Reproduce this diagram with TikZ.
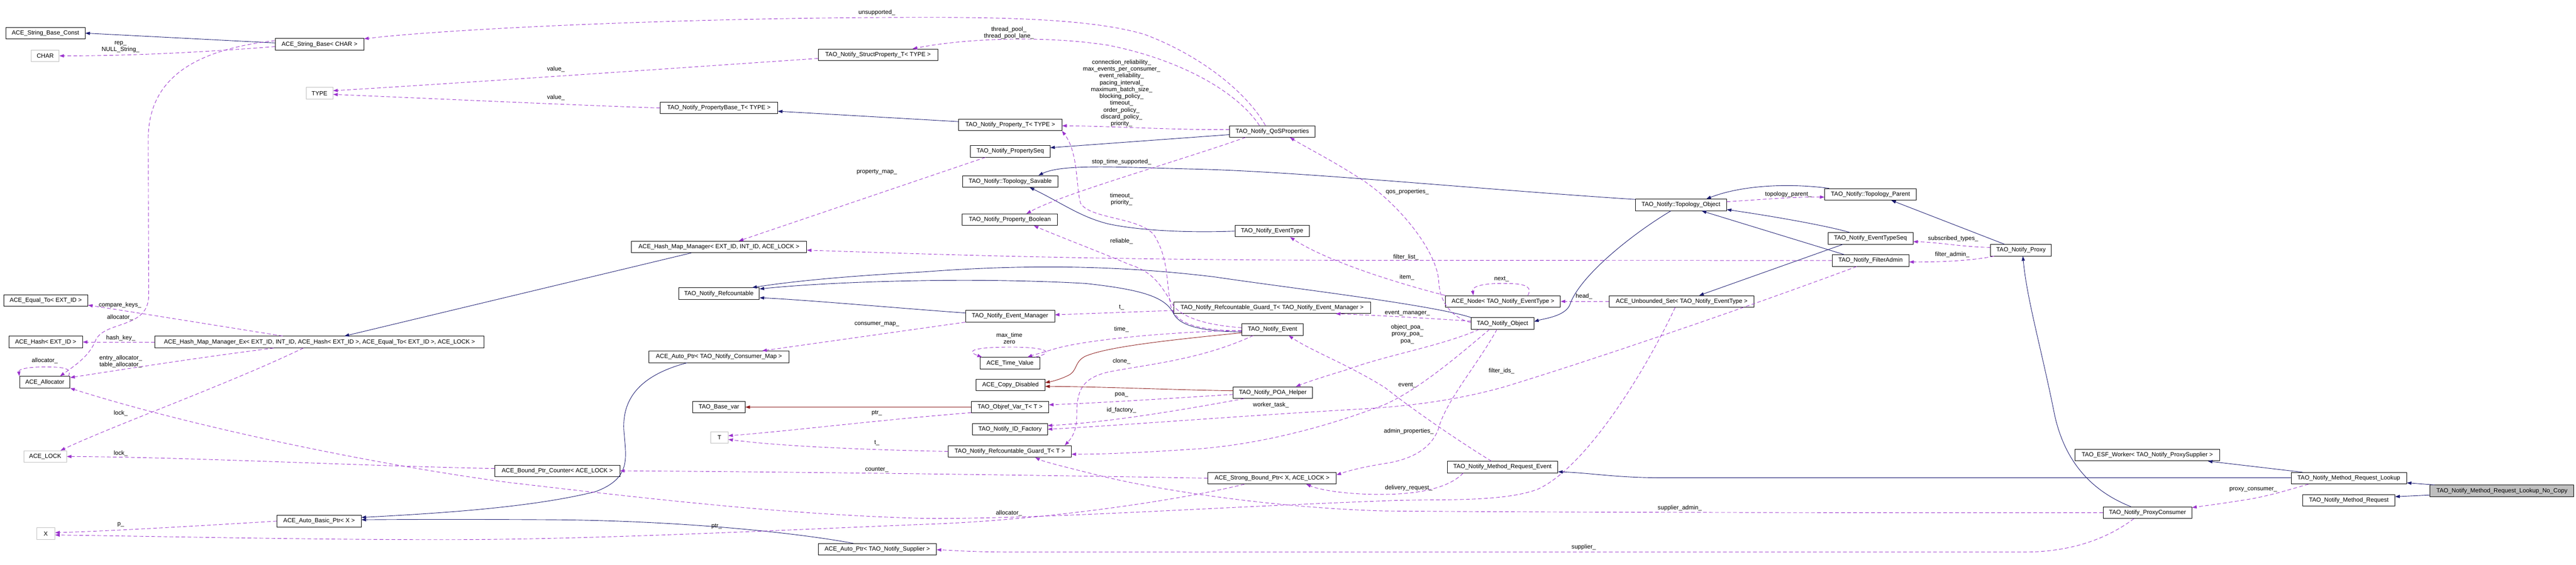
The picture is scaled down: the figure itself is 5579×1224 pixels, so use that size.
\documentclass[tikz,border=0pt]{standalone}
\usepackage{fontspec}
\setmainfont{Liberation Sans}
\usetikzlibrary{arrows.meta,calc}
\definecolor{cnavy}{HTML}{191970}
\definecolor{corchid}{HTML}{9A32CD}
\definecolor{cred}{HTML}{8B1A1A}
\definecolor{cgray}{HTML}{BFBFBF}
\newcommand\dfont{\fontsize{13}{14.8}\selectfont}
\begin{document}
\begin{tikzpicture}[x=1pt,y=-1pt,
  box/.style={draw=black, line width=1pt, fill=white, minimum height=25pt, inner xsep=3pt, inner ysep=0pt, font=\dfont},
  gbox/.style={box, draw=cgray},
  mbox/.style={box, fill=cgray},
  tip/.style={-{Triangle[length=10pt,width=7pt]}},
  inh/.style={draw=cnavy, line width=1pt, tip},
  priv/.style={draw=cred, line width=1pt, tip},
  usage/.style={draw=corchid, line width=1pt, dash pattern=on 8pt off 5pt, tip},
  lbl/.style={font=\dfont, inner sep=0pt, align=center, text=black}]
\useasboundingbox (0,0) rectangle (5579,1224);

% ---------------- nodes ----------------
\node[box, minimum width=171.5pt] (strconst) at (98.5,71.8) {ACE\_String\_Base\_Const};
\node[gbox, minimum width=60pt] (char) at (98,121) {CHAR};
\node[box, minimum width=192pt] (strbase) at (692,96) {ACE\_String\_Base< CHAR >};
\node[gbox, minimum width=58pt] (type) at (692,202) {TYPE};
\node[box, minimum width=259pt] (structprop) at (1901.5,118.6) {TAO\_Notify\_StructProperty\_T< TYPE >};
\node[box, minimum width=254pt] (propbase) at (1557,234) {TAO\_Notify\_PropertyBase\_T< TYPE >};
\node[box, minimum width=223.5pt] (propT) at (2188,270.5) {TAO\_Notify\_Property\_T< TYPE >};
\node[box, minimum width=172pt] (pseq) at (2188,328) {TAO\_Notify\_PropertySeq};
\node[box, minimum width=207.5pt] (tsav) at (2188,393) {TAO\_Notify::Topology\_Savable};
\node[box, minimum width=206pt] (pbool) at (2187,476) {TAO\_Notify\_Property\_Boolean};
\node[box, minimum width=185pt] (qos) at (2755.5,284.7) {TAO\_Notify\_QoSProperties};
\node[box, minimum width=160.5pt] (evtype) at (2755,500.7) {TAO\_Notify\_EventType};
\node[box, minimum width=380pt] (hmm) at (1557,535) {ACE\_Hash\_Map\_Manager< EXT\_ID, INT\_ID, ACE\_LOCK >};
\node[box, minimum width=182.3pt] (eqto) at (99,651) {ACE\_Equal\_To< EXT\_ID >};
\node[box, minimum width=159.6pt] (hash) at (99,741) {ACE\_Hash< EXT\_ID >};
\node[box, minimum width=109pt] (alloc) at (97,828) {ACE\_Allocator};
\node[gbox, minimum width=92.3pt] (acelock) at (98,989) {ACE\_LOCK};
\node[gbox, minimum width=39.6pt] (xn) at (99,1156) {X};
\node[box, minimum width=713pt] (hmmex) at (692,741) {ACE\_Hash\_Map\_Manager\_Ex< EXT\_ID, INT\_ID, ACE\_Hash< EXT\_ID >, ACE\_Equal\_To< EXT\_ID >, ACE\_LOCK >};
\node[box, minimum width=182.5pt] (autobasic) at (691,1129) {ACE\_Auto\_Basic\_Ptr< X >};
\node[box, minimum width=175pt] (refc) at (1557,636) {TAO\_Notify\_Refcountable};
\node[box, minimum width=302.5pt] (autocm) at (1557,773) {ACE\_Auto\_Ptr< TAO\_Notify\_Consumer\_Map >};
\node[box, minimum width=113.4pt] (basevar) at (1557,882) {TAO\_Base\_var};
\node[gbox, minimum width=37.5pt] (tn) at (1558,948) {T};
\node[box, minimum width=270.5pt] (bpc) at (1207,1020) {ACE\_Bound\_Ptr\_Counter< ACE\_LOCK >};
\node[box, minimum width=256pt] (autosup) at (1900,1190) {ACE\_Auto\_Ptr< TAO\_Notify\_Supplier >};
\node[box, minimum width=193pt] (evm) at (2187.5,685) {TAO\_Notify\_Event\_Manager};
\node[box, minimum width=426pt] (guardem) at (2755,666.6) {TAO\_Notify\_Refcountable\_Guard\_T< TAO\_Notify\_Event\_Manager >};
\node[box, minimum width=133pt] (evt) at (2756,714) {TAO\_Notify\_Event};
\node[box, minimum width=129pt] (tv) at (2187.5,786.6) {ACE\_Time\_Value};
\node[box, minimum width=149pt] (copydis) at (2188.5,834) {ACE\_Copy\_Disabled};
\node[box, minimum width=171pt] (poa) at (2756.5,850.5) {TAO\_Notify\_POA\_Helper};
\node[box, minimum width=167pt] (objref) at (2187.6,882) {TAO\_Objref\_Var\_T< T >};
\node[box, minimum width=162pt] (idf) at (2187.5,930) {TAO\_Notify\_ID\_Factory};
\node[box, minimum width=266pt] (guardt) at (2187,978) {TAO\_Notify\_Refcountable\_Guard\_T< T >};
\node[box, minimum width=278pt] (sbp) at (2755,1036) {ACE\_Strong\_Bound\_Ptr< X, ACE\_LOCK >};
\node[box, minimum width=197.5pt] (topobj) at (3640.5,444) {TAO\_Notify::Topology\_Object};
\node[box, minimum width=198pt] (topparent) at (4051,421) {TAO\_Notify::Topology\_Parent};
\node[box, minimum width=184pt] (evtseq) at (4051,516.5) {TAO\_Notify\_EventTypeSeq};
\node[box, minimum width=166.5pt] (fadmin) at (4051,564.5) {TAO\_Notify\_FilterAdmin};
\node[box, minimum width=249pt] (anode) at (3255,653) {ACE\_Node< TAO\_Notify\_EventType >};
\node[box, minimum width=313.5pt] (unbset) at (3642,653) {ACE\_Unbounded\_Set< TAO\_Notify\_EventType >};
\node[box, minimum width=136pt] (obj) at (3254,700.7) {TAO\_Notify\_Object};
\node[box, minimum width=239.4pt] (mre) at (3254,1012) {TAO\_Notify\_Method\_Request\_Event};
\node[box, minimum width=132pt] (proxy) at (4377,542) {TAO\_Notify\_Proxy};
\node[box, minimum width=192pt] (pc) at (4651,1110.6) {TAO\_Notify\_ProxyConsumer};
\node[box, minimum width=313pt] (esf) at (4650.5,986) {TAO\_ESF\_Worker< TAO\_Notify\_ProxySupplier >};
\node[box, minimum width=250pt] (lookup) at (5087,1036) {TAO\_Notify\_Method\_Request\_Lookup};
\node[box, minimum width=199.5pt] (mreq) at (5087,1084) {TAO\_Notify\_Method\_Request};
\node[mbox, minimum width=311pt] (main) at (5418.5,1063.5) {TAO\_Notify\_Method\_Request\_Lookup\_No\_Copy};

% ---------------- left area ----------------
\draw[inh] ($(strbase.west)+(0,-3)$) -- (strconst.east);
\draw[usage] ($(strbase.west)+(0,5)$) .. controls (450,112) and (300,121) .. (char.east);
\node[lbl] at (261,101.5) {rep\_\\NULL\_String\_};
\draw[usage] ($(strbase.west)+(0,-8)$) .. controls (420,108) and (322,170) .. (321,300) -- (322,640) .. controls (322,712) and (230,695) .. (208,735) .. controls (195,770) and (165,790) .. ($(alloc.north)+(33,0)$);
\node[lbl] at (260,688) {allocator\_};
\draw[usage] ($(alloc.north east)+(-4,0)$) .. controls (158,797) and (135,795) .. (97,795) .. controls (58,795) and (40,800) .. ($(alloc.north west)+(0,0)$);
\node[lbl] at (97,781) {allocator\_};
\draw[usage] ($(hmmex.north)+(-80,0)$) .. controls (450,702) and (300,678) .. ($(eqto.east)+(0,10)$);
\node[lbl] at (260,661) {compare\_keys\_};
\draw[usage] (hmmex.west) -- (hash.east);
\node[lbl] at (261.5,732.5) {hash\_key\_};
\draw[usage] ($(hmmex.south)+(-99,0)$) .. controls (450,772) and (300,795) .. ($(alloc.east)+(0,-10)$);
\node[lbl] at (261.5,783) {entry\_allocator\_\\table\_allocator\_};
\draw[usage] ($(hmmex.south)+(-35,0)$) .. controls (500,830) and (250,920) .. ($(acelock.north)+(33,0)$);
\node[lbl] at (261.5,895) {lock\_};
\draw[inh] ($(hmm.south)+(-60,0)$) -- ($(hmmex.north)+(54,0)$);
\draw[usage] ($(pseq.south)+(-54,0)$) -- ($(hmm.north)+(43,0)$);
\node[lbl] at (1899,373) {property\_map\_};
\draw[usage] (fadmin.west) -- (3000,564) .. controls (2400,564) and (2050,552) .. ($(hmm.east)+(0,7)$);
\node[lbl] at (3045,557) {filter\_list\_};

\draw[inh] ($(autocm.south)+(-69,0)$) .. controls (1390,812) and (1348,860) .. (1351,930) .. controls (1355,990) and (1370,1035) .. (1290,1065) .. controls (1150,1100) and (950,1112) .. ($(autobasic.east)+(0,-8)$);
\draw[inh] ($(autosup.north)+(-52,0)$) .. controls (1700,1150) and (1450,1128) .. (1200,1126) .. controls (1050,1125) and (900,1125) .. ($(autobasic.east)+(0,-3)$);
\draw[usage] (autobasic.west) .. controls (450,1138) and (250,1150) .. ($(xn.east)+(0,-2)$);
\node[lbl] at (261.5,1137) {p\_};
\draw[usage] ($(sbp.south)+(-60,0)$) .. controls (2550,1085) and (2250,1128) .. (2000,1136) .. controls (1700,1148) and (1300,1168) .. (1000,1169) .. controls (700,1170) and (350,1162) .. ($(xn.east)+(0,3)$);
\node[lbl] at (1552,1140) {ptr\_};
\draw[usage] ($(unbset.south)+(-14,0)$) .. controls (3570,790) and (3440,1010) .. (3330,1060) .. controls (3250,1090) and (3100,1080) .. (3000,1085) .. controls (2600,1100) and (2250,1125) .. (2000,1123) .. controls (1700,1115) and (1400,1080) .. (1100,1045) .. controls (800,1005) and (400,920) .. (alloc.south east);
\node[lbl] at (2185,1112) {allocator\_};
\draw[usage] ($(bpc.west)+(0,-5)$) .. controls (800,1010) and (400,990) .. (acelock.east);
\node[lbl] at (261.5,982) {lock\_};
\draw[usage] (sbp.west) .. controls (2300,1030) and (1700,1022) .. (bpc.east);
\node[lbl] at (1899,1017) {counter\_};
\draw[usage] (guardt.west) .. controls (1900,975) and (1700,968) .. ($(tn.east)+(0,4)$);
\node[lbl] at (1899,959) {t\_};
\draw[usage] ($(objref.south west)+(0,-1)$) .. controls (1900,910) and (1700,935) .. ($(tn.east)+(0,-4)$);
\node[lbl] at (1899,894.5) {ptr\_};
\draw[priv] (objref.west) -- (basevar.east);

% ---------------- refcountable ----------------
\draw[inh] ($(evm.west)+(0,-7)$) .. controls (1950,668) and (1750,650) .. ($(refc.east)+(0,9)$);
\draw[inh] ($(evt.west)+(0,5)$) .. controls (2600,718) and (2555,705) .. (2542,680) .. controls (2525,645) and (2480,628) .. (2350,614) .. controls (2100,600) and (1800,610) .. ($(refc.east)+(0,-10)$);
\draw[inh] (obj.north west) .. controls (3100,660) and (2800,625) .. (2631,600) .. controls (2450,578) and (2250,570) .. (2000,589) .. controls (1800,600) and (1700,612) .. ($(refc.north east)+(-16,0)$);

% ---------------- event area ----------------
\draw[usage] ($(evt.south)+(-42,0)$) .. controls (2600,780) and (2480,790) .. (2400,806) .. controls (2340,820) and (2332,850) .. (2332,900) .. controls (2332,935) and (2320,950) .. ($(guardt.north)+(119,0)$);
\node[lbl] at (2429,783) {clone\_};
\draw[usage] ($(evt.west)+(0,2)$) .. controls (2550,718) and (2350,735) .. (2280,757) .. controls (2250,766) and (2235,770) .. ($(tv.north)+(38,0)$);
\node[lbl] at (2429,713) {time\_};
\draw[usage] ($(tv.north east)+(-10,0)$) .. controls (2290,762) and (2260,752) .. (2190,752) .. controls (2110,752) and (2090,760) .. ($(tv.north west)+(4,0)$);
\node[lbl] at (2186,733) {max\_time\\zero};
\draw[priv] ($(evt.west)+(0,7)$) .. controls (2550,735) and (2400,750) .. (2350,772) .. controls (2325,785) and (2335,805) .. (2310,815) .. controls (2295,822) and (2280,826) .. ($(copydis.east)+(0,-5)$);
\draw[priv] ($(poa.west)+(0,-4)$) .. controls (2550,845) and (2400,838) .. ($(copydis.east)+(0,3)$);
\draw[usage] ($(poa.west)+(0,4)$) .. controls (2550,862) and (2400,872) .. ($(objref.east)+(0,-5)$);
\node[lbl] at (2429,855) {poa\_};
\draw[usage] ($(poa.south west)+(24,0)$) .. controls (2550,890) and (2400,915) .. ($(idf.east)+(0,-8)$);
\node[lbl] at (2429,888.5) {id\_factory\_};
\draw[usage] ($(guardem.west)+(0,6)$) -- ($(evm.east)+(0,-3)$);
\node[lbl] at (2429,666) {t\_};
\draw[usage] ($(obj.west)+(0,-5)$) .. controls (3100,690) and (3000,684) .. ($(guardem.south)+(138,0)$);
\node[lbl] at (3048,678) {event\_manager\_};
\draw[usage] ($(obj.west)+(0,-2)$) .. controls (3150,690) and (3118,660) .. (3116,610) .. controls (3112,540) and (3020,430) .. (2935,380) .. controls (2880,345) and (2830,320) .. ($(qos.south)+(38,0)$);
\node[lbl] at (3048,416) {qos\_properties\_};
\draw[usage] (anode.north west) .. controls (3050,620) and (2880,570) .. ($(evtype.south)+(39,0)$);
\node[lbl] at (3047,601) {item\_};
\draw[usage] ($(anode.north)+(54,0)$) .. controls (3322,616) and (3290,614) .. (3255,614) .. controls (3205,614) and (3188,622) .. ($(anode.north)+(-64,0)$);
\node[lbl] at (3252,605) {next\_};
\draw[usage] (unbset.west) -- (anode.east);
\node[lbl] at (3430.5,642) {head\_};
\draw[inh] ($(evtseq.south)+(-60,0)$) -- ($(unbset.north)+(38,0)$);
\draw[inh] ($(evtseq.north)+(-45,0)$) .. controls (3960,490) and (3850,470) .. ($(topobj.east)+(0,10)$);
\draw[inh] ($(fadmin.north)+(-57,0)$) -- ($(topobj.south)+(45,0)$);
\draw[inh] ($(topparent.north west)+(10,0)$) .. controls (3870,396) and (3770,402) .. ($(topobj.north)+(55,0)$);
\draw[usage] ($(topobj.east)+(0,-7)$) .. controls (3820,432) and (3890,426) .. ($(topparent.west)+(0,6)$);
\node[lbl] at (3873,421) {topology\_parent\_};
\draw[inh] ($(topobj.south)+(-22,0)$) .. controls (3530,510) and (3420,600) .. (3400,660) .. controls (3390,685) and (3345,690) .. ($(obj.east)+(0,-4)$);
\draw[inh] ($(topobj.north west)+(0,1)$) .. controls (3200,410) and (2800,370) .. (2574,366) .. controls (2420,362) and (2300,355) .. ($(tsav.north)+(61,0)$);
\draw[inh] (evtype.west) .. controls (2560,505) and (2460,498) .. (2400,485) .. controls (2340,470) and (2300,440) .. ($(tsav.south)+(42,0)$);

% ---------------- properties ----------------
\draw[usage] ($(qos.west)+(0,-4)$) .. controls (2550,282) and (2400,273) .. ($(propT.east)+(0,2)$);
\node[lbl] at (2429,202) {connection\_reliability\_\\max\_events\_per\_consumer\_\\event\_reliability\_\\pacing\_interval\_\\maximum\_batch\_size\_\\blocking\_policy\_\\timeout\_\\order\_policy\_\\discard\_policy\_\\priority\_};
\draw[inh] ($(qos.west)+(0,7)$) -- ($(pseq.east)+(0,-8)$);
\draw[usage] ($(qos.south west)+(35,0)$) .. controls (2550,350) and (2300,420) .. ($(pbool.north)+(36,0)$);
\node[lbl] at (2429,350.7) {stop\_time\_supported\_};
\draw[inh] ($(propT.west)+(0,-7)$) -- ($(propbase.east)+(0,7)$);
\draw[usage] (propbase.west) .. controls (1200,226) and (950,214) .. ($(type.east)+(0,2.5)$);
\node[lbl] at (1204,211) {value\_};
\draw[usage] ($(structprop.west)+(0,8)$) .. controls (1500,145) and (1000,180) .. ($(type.east)+(0,-5.5)$);
\node[lbl] at (1204,150) {value\_};
\draw[usage] ($(qos.north)+(-28,0)$) .. controls (2680,200) and (2560,130) .. (2400,98) .. controls (2250,75) and (2080,85) .. ($(structprop.north east)+(-55,0)$);
\node[lbl] at (2185,71) {thread\_pool\_\\thread\_pool\_lane\_};
\draw[usage] ($(qos.north)+(-15,0)$) .. controls (2700,200) and (2600,120) .. (2480,75) .. controls (2350,35) and (2100,37) .. (1900,38) .. controls (1500,40) and (1000,60) .. ($(strbase.east)+(0,-12)$);
\node[lbl] at (1899,27) {unsupported\_};
\draw[usage] ($(evt.west)+(0,3)$) .. controls (2600,715) and (2545,705) .. (2535,660) .. controls (2525,600) and (2530,560) .. (2500,510) .. controls (2470,470) and (2360,475) .. (2340,440) .. controls (2330,400) and (2335,330) .. ($(propT.south)+(112,0)$);
\node[lbl] at (2429,431.5) {timeout\_\\priority\_};
\draw[usage] ($(evt.west)+(0,-4)$) .. controls (2620,705) and (2560,690) .. (2540,660) .. controls (2515,620) and (2500,590) .. (2446,573) .. controls (2380,545) and (2300,515) .. ($(pbool.south)+(52,0)$);
\node[lbl] at (2429,522.7) {reliable\_};
\draw[usage] (evm.south west) -- ($(autocm.north east)+(-58,0)$);
\node[lbl] at (1899,702.7) {consumer\_map\_};

% ---------------- object area ----------------
\draw[usage] ($(mre.north)+(-24,0)$) .. controls (3150,950) and (3050,880) .. (3000,840) .. controls (2920,790) and (2840,760) .. ($(evt.south)+(35,0)$);
\node[lbl] at (3048,834) {event\_};
\draw[usage] ($(mre.south west)+(35,0)$) .. controls (3140,1055) and (3080,1070) .. (3000,1071) .. controls (2920,1072) and (2860,1062) .. ($(sbp.south)+(74,0)$);
\node[lbl] at (3051,1057) {delivery\_request\_};
\draw[usage] ($(obj.south west)+(18,0)$) .. controls (3120,750) and (3000,770) .. (2920,800) .. controls (2870,815) and (2830,828) .. ($(poa.north)+(50,0)$);
\node[lbl] at (3048,724) {object\_poa\_\\proxy\_poa\_\\poa\_};
\draw[usage] ($(obj.south)+(-28,0)$) .. controls (3170,760) and (3080,840) .. (3000,876) .. controls (2900,915) and (2750,960) .. (2600,972) .. controls (2480,980) and (2400,984) .. ($(guardt.east)+(0,6)$);
\node[lbl] at (2752.5,878) {worker\_task\_};
\draw[usage] ($(fadmin.south)+(-30,0)$) .. controls (3800,660) and (3450,780) .. (3255,839) .. controls (3150,868) and (3050,880) .. (2950,886) .. controls (2700,900) and (2450,920) .. (idf.east);
\node[lbl] at (3252,803.7) {filter\_ids\_};
\draw[usage] ($(obj.south)+(-12,0)$) .. controls (3200,790) and (3130,870) .. (3115,930) .. controls (3100,970) and (3060,995) .. (3000,1004) .. controls (2950,1012) and (2920,1020) .. ($(sbp.east)+(0,-7)$);
\node[lbl] at (3051,935) {admin\_properties\_};
\draw[usage] (pc.west) .. controls (4300,1111) and (3500,1111) .. (3000,1107) .. controls (2750,1100) and (2500,1060) .. (2380,1030) .. controls (2300,1010) and (2260,1000) .. ($(guardt.south)+(55,0)$);
\node[lbl] at (3638,1101) {supplier\_admin\_};
\draw[usage] ($(pc.south west)+(67,0)$) .. controls (4560,1170) and (4480,1196) .. (4383,1196) -- (2200,1196) .. controls (2100,1196) and (2060,1192) .. ($(autosup.east)+(0,1)$);
\node[lbl] at (3430,1185) {supplier\_};

% ---------------- right area ----------------
\draw[inh] ($(pc.north)+(-36,0)$) .. controls (4520,1060) and (4470,990) .. (4450,900) .. controls (4420,750) and (4390,650) .. ($(proxy.south)+(4,0)$);
\draw[inh] ($(proxy.north)+(-36,0)$) -- ($(topparent.south)+(45,0)$);
\draw[usage] ($(proxy.west)+(0,-6)$) .. controls (4250,535) and (4200,525) .. ($(evtseq.east)+(0,7)$);
\node[lbl] at (4230,517) {subscribed\_types\_};
\draw[usage] ($(proxy.south west)+(8,0)$) .. controls (4270,565) and (4200,568) .. ($(fadmin.east)+(0,3)$);
\node[lbl] at (4228,552) {filter\_admin\_};
\draw[inh] ($(lookup.west)+(0,-1)$) -- (3600,1035) .. controls (3500,1035) and (3450,1025) .. ($(mre.east)+(0,10)$);
\draw[inh] ($(lookup.north west)+(25,0)$) -- ($(esf.south east)+(-26,0)$);
\draw[usage] ($(lookup.south west)+(38,0)$) .. controls (4960,1060) and (4930,1070) .. (4880,1080) .. controls (4820,1090) and (4780,1095) .. ($(pc.east)+(0,-11)$);
\node[lbl] at (4880,1061) {proxy\_consumer\_};
\draw[inh] ($(main.north west)+(10,0)$) -- ($(lookup.east)+(0,10)$);
\draw[inh] ($(main.west)+(0,9)$) -- ($(mreq.east)+(0,-8)$);
\end{tikzpicture}
\end{document}
